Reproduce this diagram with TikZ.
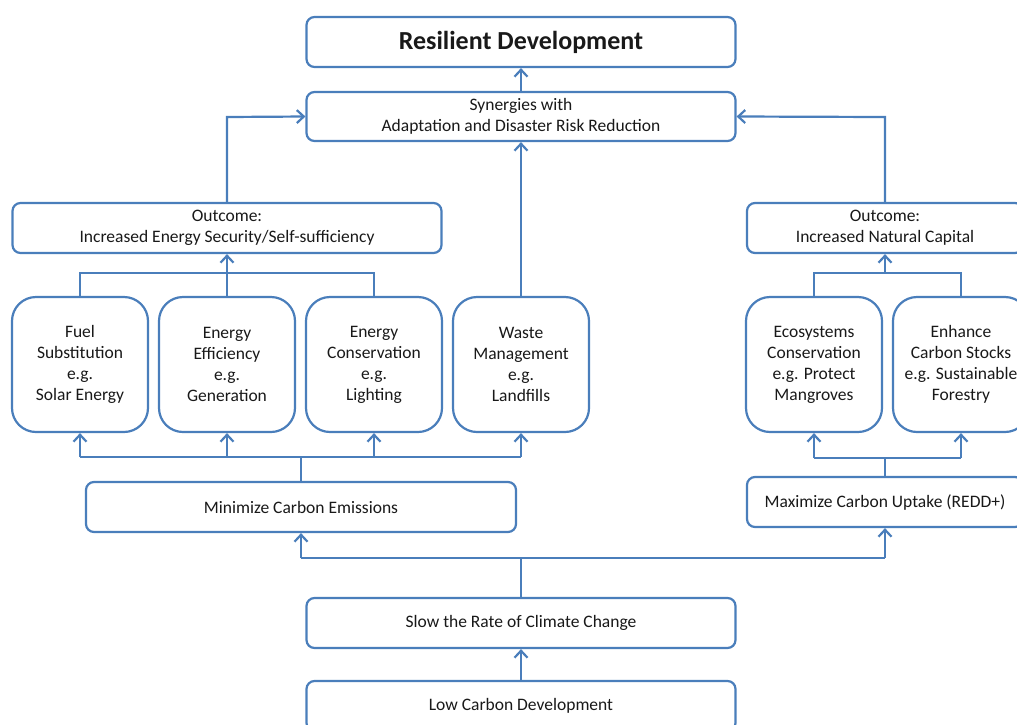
\documentclass[tikz,border=0pt]{standalone}
\usepackage{fontspec}
\setmainfont{Carlito}
\usetikzlibrary{arrows.meta}
\definecolor{boxblue}{HTML}{4A7EBB}
\newcommand{\txtfont}{\fontsize{17.5pt}{21pt}\selectfont}
\begin{document}
\begin{tikzpicture}[x=1pt,y=-1pt,
  box/.style={draw=boxblue, line width=2.2pt, rounded corners=8pt, fill=white, align=center, inner sep=0pt, font=\txtfont, text=black!90},
  tallbox/.style={box, rounded corners=24pt, minimum width=136pt, minimum height=135pt},
  widebox/.style={box, minimum width=429pt, minimum height=50pt},
  sidebox/.style={box, minimum width=276pt, minimum height=50pt},
  ln/.style={draw=boxblue, line width=2.2pt},
  arr/.style={ln, -{Straight Barb[length=7pt,width=13pt]}}]
\useasboundingbox (0,0) rectangle (1017,724);
\clip (0,0) rectangle (1017,724);
% nodes
\node[widebox, font=\fontsize{26pt}{30pt}\selectfont\bfseries] (rd) at (521,42) {Resilient Development};
\node[widebox, minimum height=49pt] (syn) at (521,116.5) {Synergies with\\Adaptation and Disaster Risk Reduction};
\node[widebox] (outL) at (227,228) {Outcome:\\Increased Energy Security/Self-sufficiency};
\node[sidebox] (outR) at (885,228) {Outcome:\\Increased Natural Capital};
\node[tallbox] (fuel) at (80,364.5) {Fuel\\Substitution\\e.g.\\Solar Energy};
\node[tallbox] (ee) at (227,364.5) {Energy\\Efficiency\\e.g.\\Generation};
\node[tallbox] (ec) at (374,364.5) {Energy\\Conservation\\e.g.\\Lighting};
\node[tallbox] (waste) at (521,364.5) {Waste\\Management\\e.g.\\Landfills};
\node[tallbox] (eco) at (814,364.5) {Ecosystems\\Conservation\\e.g. Protect\\Mangroves};
\node[tallbox] (enh) at (961,364.5) {Enhance\\Carbon Stocks\\e.g. Sustainable\\Forestry};
\node[box, minimum width=430pt, minimum height=50pt] (minC) at (301,507) {Minimize Carbon Emissions};
\node[sidebox] (maxC) at (885,502) {Maximize Carbon Uptake (REDD+)};
\node[widebox] (slow) at (521,623) {Slow the Rate of Climate Change};
\node[widebox] (low) at (521,706) {Low Carbon Development};
% junction coordinates
\coordinate (jtl) at (227,273);
\coordinate (jbl) at (301,457);
\coordinate (jtr) at (885,273);
\coordinate (jbr) at (885,458);
\coordinate (jbot) at (521,558);
\coordinate (jsyn) at (0,117);
% connectors
\draw[arr] (syn.north) -- (rd.south);
\draw[arr] (outL.north) -- (outL.north |- jsyn) -- (syn.west);
\draw[arr] (outR.north) -- (outR.north |- jsyn) -- (syn.east);
\draw[arr] (waste.north) -- (waste.north |- syn.south);
\draw[ln] (fuel.north) -- (fuel.north |- jtl) -- (ec.north |- jtl) -- (ec.north);
\draw[arr] (ee.north) -- (outL.south);
\draw[ln] (eco.north) -- (eco.north |- jtr) -- (enh.north |- jtr) -- (enh.north);
\draw[arr] (jtr) -- (outR.south);
\draw[ln] (minC.north) -- (jbl);
\draw[ln] (fuel.south |- jbl) -- (waste.south |- jbl);
\foreach \n in {fuel,ee,ec,waste}{\draw[arr] (\n.south |- jbl) -- (\n.south);}
\draw[ln] (maxC.north) -- (jbr);
\draw[ln] (eco.south |- jbr) -- (enh.south |- jbr);
\foreach \n in {eco,enh}{\draw[arr] (\n.south |- jbr) -- (\n.south);}
\draw[ln] (slow.north) -- (jbot);
\draw[ln] (minC.south |- jbot) -- (maxC.south |- jbot);
\draw[arr] (minC.south |- jbot) -- (minC.south);
\draw[arr] (maxC.south |- jbot) -- (maxC.south);
\draw[arr] (low.north) -- (slow.south);
\end{tikzpicture}
\end{document}
